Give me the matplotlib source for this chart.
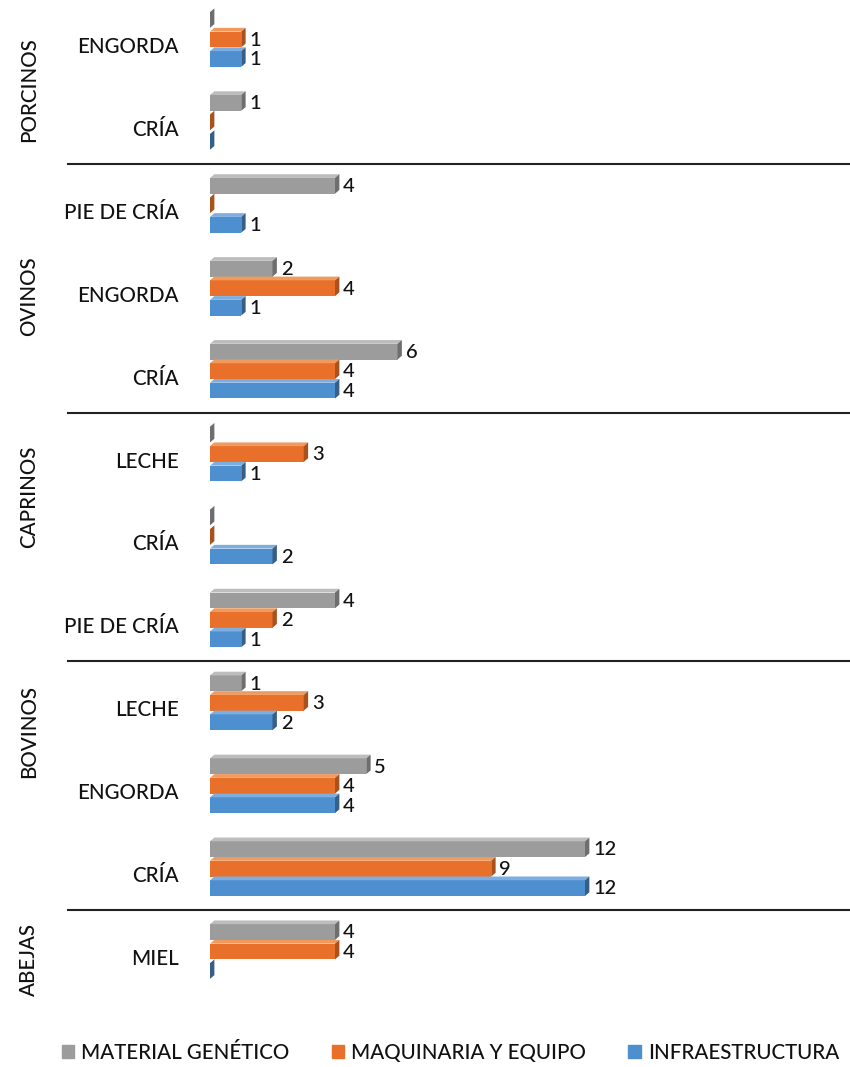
import matplotlib.pyplot as plt
from matplotlib.patches import Polygon
import matplotlib.transforms as mtransforms

# -------------------------------
# Data (bottom to top)
# -------------------------------
groups = ["ABEJAS", "BOVINOS", "CAPRINOS", "OVINOS", "PORCINOS"]
group_sizes = [1, 3, 3, 3, 2]
categories = ["MIEL",
              "CRÍA", "ENGORDA", "LECHE",
              "PIE DE CRÍA", "CRÍA", "LECHE",
              "CRÍA", "ENGORDA", "PIE DE CRÍA",
              "CRÍA", "ENGORDA"]
material_genetico = [4, 12, 5, 1, 4, 0, 0, 6, 2, 4, 1, 0]
maquinaria = [4, 9, 4, 3, 2, 0, 3, 4, 4, 0, 0, 1]
infraestructura = [0, 12, 4, 2, 1, 2, 1, 4, 1, 1, 0, 1]

series = [
    ("MATERIAL GENÉTICO", material_genetico, "#9c9c9c", "#bdbdbd", "#6e6e6e"),
    ("MAQUINARIA Y EQUIPO", maquinaria, "#e8702a", "#f09a5e", "#a9521d"),
    ("INFRAESTRUCTURA", infraestructura, "#4e8fd0", "#7eaee0", "#365f88"),
]

# where the rotated group names sit (y in category units, as in the original)
group_label_y = [-0.1, 2.65, 5.49, 7.9, 10.39]

plt.rcParams['font.family'] = ['Lato', 'DejaVu Sans']
TXT = "#111111"

fig = plt.figure(figsize=(8.5, 10.67), dpi=100)
ax = fig.add_axes([210 / 850, 74 / 1067, 640 / 850, 995 / 1067])
ax.set_xlim(0, 640 / 31.25)
ax.set_ylim(-0.5, 11.5)

bar_h = 0.19
step = 0.235
dx = 0.14   # depth in x (data units)
dy = 0.045  # depth in y (data units)

offsets = [step, 0, -step]
for (name, vals, front, top, side), off in zip(series, offsets):
    for i, v in enumerate(vals):
        yc = i + off
        y0 = yc - bar_h / 2
        y1 = yc + bar_h / 2
        if v > 0:
            ax.barh(yc, v, height=bar_h, color=front, edgecolor="none", zorder=2)
            ax.add_patch(Polygon([(0, y1), (v, y1), (v + dx, y1 + dy), (dx, y1 + dy)],
                                 closed=True, facecolor=top, edgecolor="none", zorder=2))
        ax.add_patch(Polygon([(v, y0), (v + dx, y0 + dy), (v + dx, y1 + dy), (v, y1)],
                             closed=True, facecolor=side, edgecolor="none", zorder=2))
        if v > 0:
            ax.text(v + dx + 0.12, yc - 0.01, str(v), ha="left", va="center",
                    fontsize=14.5, color=TXT, fontweight="medium")

# category labels, slightly below the bar group centre
label_shift = mtransforms.offset_copy(ax.transData, fig=fig, x=0, y=-7.5, units="dots")
ax.set_yticks([])
for i, cat in enumerate(categories):
    ax.text(-1.0, i, cat, ha="right", va="center", fontsize=14.8,
            color=TXT, fontweight="medium", transform=label_shift)

# group labels and separators
start = 0
for g, n, gy in zip(groups, group_sizes, group_label_y):
    ax.text(-5.8, gy, g, rotation=90, ha="center", va="center", fontsize=14.8,
            color=TXT, fontweight="medium")
    if start + n < len(categories):
        ax.plot([-142 / 31.25, 640 / 31.25], [start + n - 0.5] * 2, color="#222222",
                lw=1.5, clip_on=False, zorder=1)
    start += n

ax.set_xticks([])
for s in ax.spines.values():
    s.set_visible(False)

handles = [plt.Rectangle((0, 0), 1, 1, color=c) for _, _, c, _, _ in series]
fig.legend(handles, [s[0] for s in series], loc="center", bbox_to_anchor=(0.530, 14 / 1067),
           ncol=3, frameon=False, handlelength=0.6, handleheight=0.6,
           handletextpad=0.35, columnspacing=2.05,
           prop={"size": 14.8, "weight": "medium"})
for t in fig.legends[0].get_texts():
    t.set_color(TXT)

fig.savefig("out.png", dpi=100)
